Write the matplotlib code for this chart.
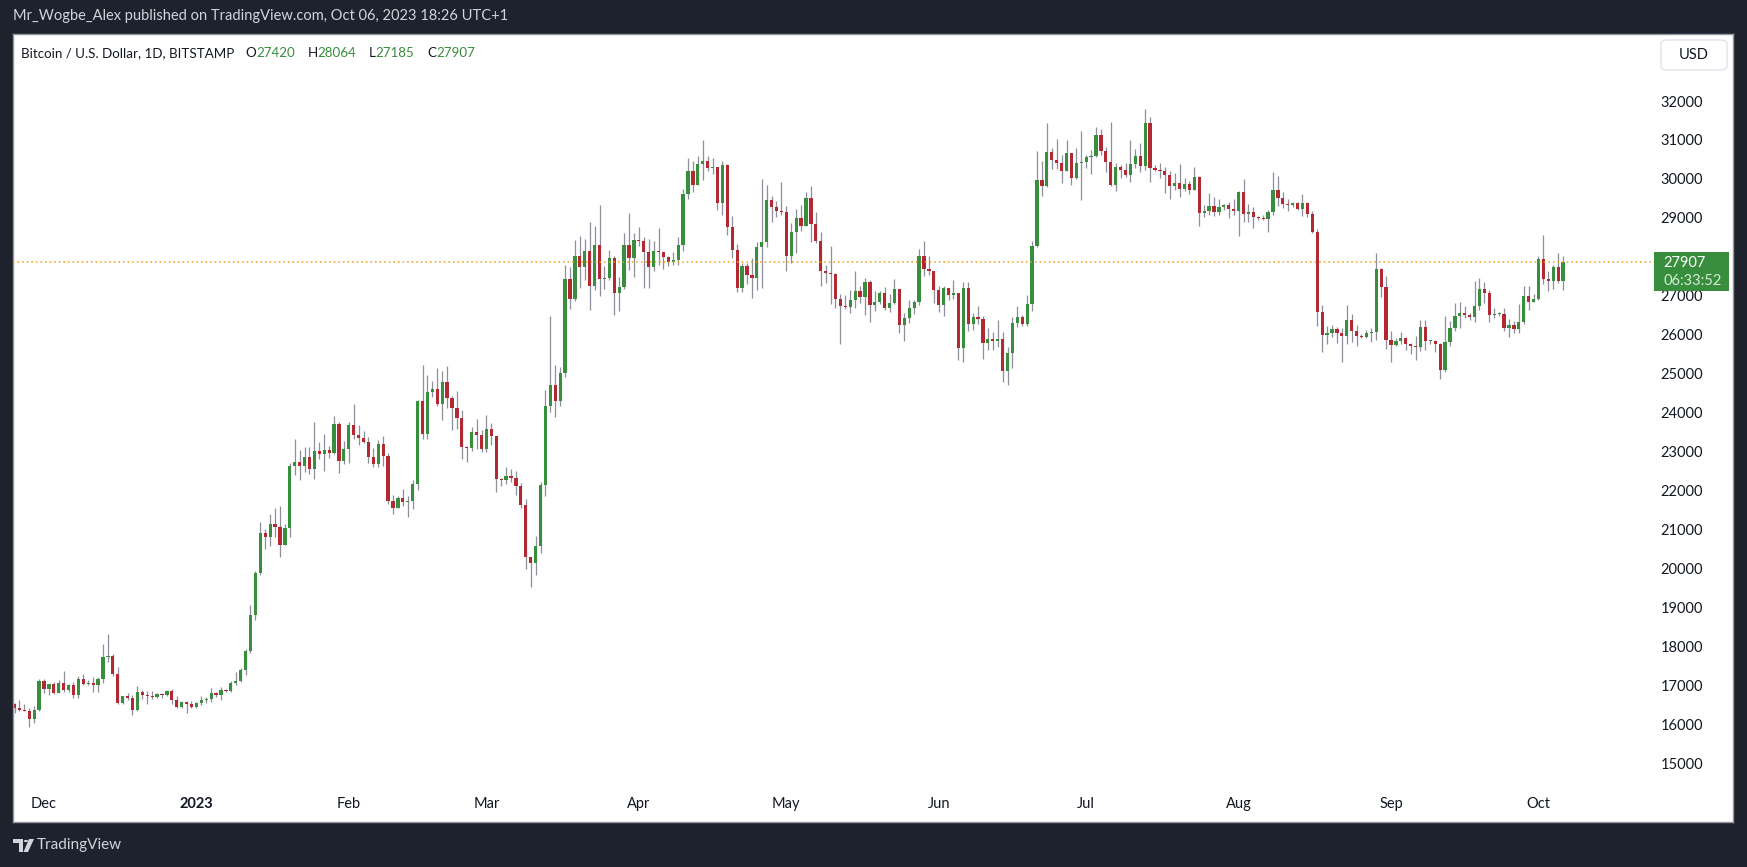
import pandas as pd
import numpy as np
import matplotlib
matplotlib.use("Agg")
import matplotlib.pyplot as plt
import matplotlib.dates as mdates
from matplotlib.patches import Rectangle, FancyBboxPatch, Polygon, Circle

# BTC/USD daily candles, Bitstamp, 2022-11-25 .. 2023-10-06
start_date = "2022-11-25"
first_open = 16581

close = [
    # Nov 25-30
    16479, 16414, 16400, 16186, 16418, 17150,
    # Dec
    16950, 17073, 16863, 17110, 16930, 17070, 16800, 17210, 17080, 17110,
    17060, 17210, 17780, 17810, 17350, 16600, 16780, 16720, 16420, 16880,
    16800, 16780, 16750, 16830, 16800, 16900, 16670, 16490, 16620, 16580, 16490,
    # Jan
    16600, 16675, 16690, 16855, 16805, 16932, 16906, 17120, 17163, 17445,
    17932, 18856, 19933, 20959, 20856, 21190, 21113, 20651, 21087, 22677,
    22780, 22677, 22908, 22600, 23062, 22985, 23087, 23010, 23754, 22805, 23113,
    # Feb
    23729, 23472, 23395, 23292, 22908, 22728, 23241, 22934, 21779, 21600,
    21857, 21754, 21780, 22215, 24344, 23498, 24575, 24652, 24267, 24831,
    24421, 24165, 23908, 23164, 23139, 23549, 23472, 23113,
    # Mar
    23626, 23447, 22344, 22318, 22421, 22370, 22164, 21677, 20343, 20189,
    20625, 22190, 24225, 24755, 24353, 25062, 27473, 26969, 28063, 27790,
    28191, 27302, 28345, 27482, 27507, 28012, 27123, 27277, 28345, 28020, 28473,
    # Apr
    28456, 28174, 27790, 28191, 28165, 28046, 27918, 27969, 28345, 29653,
    30243, 29893, 30423, 30500, 30329, 30346, 29431, 30397, 28815, 28226,
    27251, 27815, 27585, 27507, 28302, 28422, 29499, 29320, 29217, 29190,
    # May
    28063, 28679, 29038, 28833, 29551, 28884, 28448, 27678, 27627, 27601,
    26960, 26781, 26755, 26935, 27165, 27011, 27396, 26806, 26884, 27114,
    26730, 26858, 27217, 26294, 26473, 26729, 26883, 28063, 27730, 27678, 27191,
    # Jun
    26806, 27242, 27063, 27114, 25703, 27242, 26319, 26499, 26447, 25832,
    25934, 25883, 25934, 25114, 25575, 26345, 26499, 26319, 26832, 28320,
    30012, 29858, 30730, 30525, 30448, 30243, 30705, 30064, 30448, 30474,
    # Jul
    30602, 30628, 31167, 30756, 30474, 29884, 30346, 30269, 30141, 30423,
    30628, 30371, 31474, 30320, 30269, 30243, 30141, 29858, 29935, 29781,
    29910, 29756, 30089, 29166, 29217, 29345, 29191, 29320, 29371, 29268, 29217,
    # Aug
    29705, 29140, 29191, 29063, 29038, 29012, 29191, 29756, 29551, 29397,
    29371, 29422, 29268, 29422, 29140, 28679, 26627, 26037, 26088, 26191,
    26088, 26011, 26422, 26140, 26011, 25986, 26088, 26114, 27730, 27268, 25908,
    # Sep
    25780, 25883, 25960, 25806, 25755, 25729, 26242, 25883, 25883, 25806,
    25139, 25857, 26217, 26524, 26601, 26550, 26499, 26781, 27217, 27114,
    26550, 26575, 26575, 26217, 26294, 26191, 26370, 27037, 26883, 26960,
    # Oct 1-6
    27986, 27473, 27422, 27781, 27420, 27907,
]

high = [
    16607, 16676, 16570, 16463, 16510, 17210,
    17210, 17090, 17140, 17190, 17420, 17080, 17130, 17290, 17340, 17200,
    17260, 17260, 18110, 18370, 17860, 17520, 16790, 16860, 16800, 17040,
    16930, 16900, 16900, 16860, 16860, 16930, 16950, 16780, 16650, 16660, 16640,
    16630, 16780, 16760, 16980, 16890, 17010, 16960, 17160, 17400, 17490,
    17983, 19112, 19992, 21241, 21061, 21446, 21600, 21651, 21190, 22754,
    23370, 23087, 23164, 23164, 23805, 23292, 23498, 23190, 23959, 23805, 23318,
    23805, 24267, 23729, 23575, 23421, 23138, 23344, 23446, 23010, 21933,
    21908, 22087, 21908, 22318, 24370, 25267, 25011, 24857, 25190, 25113,
    25242, 24472, 24601, 24113, 23190, 23677, 23882, 23600,
    23985, 23780, 23447, 22370, 22652, 22600, 22549, 22240, 21831, 20343,
    20882, 22267, 24626, 26524, 25268, 25217, 27832, 27781, 28474, 28576,
    28499, 28935, 28833, 29371, 27815, 28217, 28063, 27533, 28653, 29166, 28653,
    28807, 28550, 28499, 28448, 28781, 28165, 28063, 28165, 28550, 29781,
    30577, 30500, 30628, 31038, 30628, 30577, 30346, 30500, 30423, 29089,
    28371, 27892, 27892, 28020, 28431, 30038, 29884, 29602, 29474, 29961,
    29345, 28910, 29269, 29371, 29705, 29859, 29192, 28679, 27832, 28320,
    27627, 27089, 27063, 27191, 27678, 27294, 27499, 27448, 27165, 27165,
    27268, 27089, 27473, 27217, 26601, 26935, 26935, 28243, 28448, 28063, 27678,
    27294, 27294, 27242, 27448, 27114, 27396, 27396, 26601, 26781, 26524,
    26217, 26114, 26422, 26114, 25729, 26499, 26781, 26550, 27063, 28448,
    30756, 30500, 31474, 30833, 31064, 30654, 31038, 30705, 30833, 31269,
    30654, 30782, 31372, 31320, 30859, 31500, 30448, 30397, 30448, 31038,
    30808, 30961, 31833, 31628, 30397, 30448, 30346, 30243, 30192, 30423,
    30064, 29987, 30346, 30115, 29371, 29679, 29576, 29525, 29397, 29448, 29525,
    29730, 30038, 29397, 29320, 29090, 29120, 29240, 30217, 30115, 29705,
    29525, 29460, 29440, 29653, 29440, 29217, 28756, 26806, 26268, 26294,
    26242, 26217, 26806, 26576, 26294, 26060, 26165, 26217, 28140, 27755, 27550,
    26140, 25960, 26114, 25980, 25830, 26011, 26422, 26422, 25910, 25910,
    25830, 26524, 26396, 26858, 26883, 26781, 26600, 27422, 27499, 27396,
    27191, 26730, 26620, 26730, 26448, 26396, 26832, 27294, 27294, 27089,
    28063, 28602, 27678, 27832, 28140, 28064,
]

low = [
    16351, 16393, 16390, 15990, 16090, 16400,
    16860, 16810, 16835, 16863, 16890, 16880, 16720, 16720, 17070, 17070,
    16890, 16890, 17100, 17660, 17300, 16570, 16570, 16680, 16280, 16400,
    16700, 16570, 16700, 16730, 16730, 16780, 16570, 16460, 16460, 16330, 16460,
    16470, 16550, 16600, 16620, 16750, 16675, 16880, 16890, 17060, 17140,
    17325, 17890, 18727, 19882, 20548, 20625, 20856, 20352, 20651, 20856,
    22446, 22318, 22523, 22472, 22344, 22856, 22549, 22882, 22985, 22497, 22728,
    22754, 23369, 23215, 23267, 22754, 22651, 22651, 22677, 21703, 21446,
    21600, 21651, 21369, 21574, 22062, 23370, 23370, 24447, 24216, 23857,
    24165, 23600, 23626, 22857, 22780, 23062, 23113, 23036,
    23036, 23216, 22011, 22164, 22216, 22267, 21933, 21600, 20036, 19582,
    19882, 20446, 21908, 24071, 23943, 24225, 24968, 26713, 26918, 27251,
    27456, 26687, 27200, 27046, 27225, 27456, 26559, 26661, 27225, 27713, 27533,
    28320, 27251, 27251, 27687, 27841, 27738, 27815, 27841, 27841, 28200,
    29534, 29713, 29893, 30021, 30252, 30175, 29252, 29123, 28611, 28020,
    27148, 27148, 27353, 26995, 27200, 27251, 28302, 28944, 29063, 29115,
    27678, 27884, 28140, 28704, 28833, 28422, 28400, 27294, 27371, 26832,
    26730, 25806, 26704, 26602, 26730, 26858, 26550, 26370, 26653, 26832,
    26678, 26627, 26832, 26088, 25883, 26345, 26575, 26806, 27550, 27576, 26858,
    26627, 26524, 26935, 26960, 25396, 25345, 26140, 26165, 26319, 25422,
    25652, 25652, 25729, 24832, 24755, 25191, 26242, 26268, 26268, 26653,
    28294, 29602, 29833, 30294, 30294, 29935, 30243, 29884, 30038, 29499,
    30320, 30166, 30602, 30654, 30217, 29850, 29730, 30064, 30089, 29961,
    30320, 30217, 30269, 29961, 30240, 30064, 29679, 29525, 29756, 29576,
    29730, 29653, 29756, 28833, 29063, 29115, 29089, 29115, 29243, 29038, 29115,
    28576, 28935, 28935, 28781, 28980, 28990, 28679, 29115, 29345, 29294,
    29217, 29330, 29240, 29089, 29063, 28650, 26268, 25601, 25806, 25986,
    25832, 25345, 25806, 25858, 25755, 25960, 25960, 25858, 25909, 27011, 25678,
    25345, 25750, 25806, 25652, 25550, 25396, 25627, 25652, 25800, 25601,
    24909, 25100, 25755, 26140, 26217, 26473, 26422, 26370, 26678, 26858,
    26370, 26473, 26520, 26140, 25986, 26088, 26088, 26319, 26678, 26880,
    26935, 27345, 27165, 27217, 27371, 27185,
]

# 28000 is hidden behind the last-price label in the reference
price_ticks = [15000, 16000, 17000, 18000, 19000, 20000, 21000, 22000, 23000,
               24000, 25000, 26000, 27000, 29000, 30000, 31000, 32000]
month_starts = ["2022-12-01", "2023-01-01", "2023-02-01", "2023-03-01", "2023-04-01",
                "2023-05-01", "2023-06-01", "2023-07-01", "2023-08-01", "2023-09-01",
                "2023-10-01"]
month_labels = ["Dec", "2023", "Feb", "Mar", "Apr", "May", "Jun", "Jul", "Aug", "Sep", "Oct"]

last_price = 27907
countdown = "06:33:52"
header = "Mr_Wogbe_Alex published on TradingView.com, Oct 06, 2023 18:26 UTC+1"
symbol_title = "Bitcoin / U.S. Dollar, 1D, BITSTAMP"
ohlc_letters = ["O", "H", "L", "C"]
ohlc_values = ["27420", "28064", "27185", "27907"]

GREEN = "#388e3c"
RED = "#b22833"
WICK = "#8e8f9b"
DARK = "#1e222d"
TEXT = "#131722"

plt.rcParams["font.family"] = ["Lato", "DejaVu Sans"]

W, H = 1747, 867
def fx(px):
    return px / W
def fy(py):
    return 1 - py / H

dates = pd.date_range(start_date, periods=len(close), freq="D")
x = mdates.date2num(dates)
c = np.array(close, dtype=float)
o = np.array([first_open] + close[:-1], dtype=float)
hi = np.array(high, dtype=float)
lo = np.array(low, dtype=float)
up = c >= o

fig = plt.figure(figsize=(W / 100, H / 100), dpi=100, facecolor=DARK)
ax = fig.add_axes([fx(13), fy(822), fx(1733) - fx(13), fy(34) - fy(822)])
ax.set_facecolor("white")

px_per_day = 4.916
dec1 = mdates.date2num(pd.Timestamp("2022-12-01"))
ax.set_xlim(dec1 - 31 / px_per_day, dec1 + (1733 - 44) / px_per_day)
ax.set_ylim(13546, 33757)

ax.vlines(x, lo, hi, color=WICK, linewidth=0.9, zorder=1)
body_bottom = np.minimum(o, c)
body_h = np.maximum(np.abs(c - o), 25)
ax.bar(x, body_h, bottom=body_bottom, width=0.66,
       color=np.where(up, GREEN, RED), linewidth=0, zorder=2)

# last price dotted line
ax.axhline(last_price, xmin=0, xmax=(1654 - 13) / 1720, color="#f59d16",
           linestyle=(0, (1, 2)), linewidth=1.1, zorder=3)

ax.set_xticks([])
ax.set_yticks([])
for s in ax.spines.values():
    s.set_color("#9598a1")
    s.set_linewidth(1)

# price scale labels
ytr = ax.get_yaxis_transform()
for t in price_ticks:
    ax.text((1703 - 13) / 1720, t, str(t), transform=ytr, ha="right", va="center",
            fontsize=10.5, color=TEXT)

# month labels
xtr = ax.get_xaxis_transform()
for d, lab in zip(month_starts, month_labels):
    ax.text(mdates.date2num(pd.Timestamp(d)), (822 - 804) / 788, lab, transform=xtr,
            ha="center", va="center", fontsize=10.5, color=TEXT,
            fontweight="bold" if lab == "2023" else "normal")

# header
fig.text(fx(13), fy(16), header, ha="left", va="center", fontsize=10.5, color="#d1d4dc")

# symbol line with OHLC values
prev = fig.text(fx(21), fy(53), symbol_title, ha="left", va="center",
                fontsize=9.6, color=TEXT)
for k, (letter, val) in enumerate(zip(ohlc_letters, ohlc_values)):
    lt = ax.annotate(letter, xy=(1, 0.5), xycoords=prev, xytext=(8 if k == 0 else 9, 0),
                     textcoords="offset points", ha="left", va="center",
                     fontsize=9.6, color=TEXT, annotation_clip=False)
    vt = ax.annotate(val, xy=(1, 0.5), xycoords=lt, xytext=(0, 0),
                     textcoords="offset points", ha="left", va="center",
                     fontsize=9.6, color=GREEN, annotation_clip=False)
    prev = vt

# USD button
fig.patches.append(FancyBboxPatch((fx(1661), fy(70)), fx(1727) - fx(1661), fy(40) - fy(70),
                                  boxstyle="round,pad=0,rounding_size=0.004",
                                  transform=fig.transFigure, facecolor="white",
                                  edgecolor="#e0e3eb", linewidth=1, zorder=5))
fig.text(fx(1694), fy(55), "USD", ha="center", va="center", fontsize=10.5, color=TEXT, zorder=6)

# last price label box
fig.patches.append(Rectangle((fx(1654), fy(291)), fx(1729) - fx(1654), fy(252) - fy(291),
                             transform=fig.transFigure, facecolor=GREEN, edgecolor="none", zorder=5))
fig.text(fx(1663), fy(263), str(last_price), ha="left", va="center", fontsize=10.5,
         color="white", zorder=6)
fig.text(fx(1663), fy(281), countdown, ha="left", va="center", fontsize=10.5,
         color="#d5ecd6", zorder=6)

# footer logo (drawn from simple shapes) and name
logo_col = "#d1d4dc"
fig.patches.append(Polygon([(fx(13), fy(839)), (fx(23), fy(839)), (fx(23), fy(852)),
                            (fx(19), fy(852)), (fx(19), fy(843)), (fx(13), fy(843))],
                           closed=True, transform=fig.transFigure, facecolor=logo_col,
                           edgecolor="none"))
fig.patches.append(Circle((fx(26), fy(841)), 2.2 / W, transform=fig.transFigure,
                          facecolor=logo_col, edgecolor="none"))
fig.patches.append(Polygon([(fx(29), fy(839)), (fx(34), fy(839)), (fx(28), fy(852)),
                            (fx(23.5), fy(852))],
                           closed=True, transform=fig.transFigure, facecolor=logo_col,
                           edgecolor="none"))
fig.text(fx(37), fy(845), "TradingView", ha="left", va="center", fontsize=11, color=logo_col)

fig.savefig("out.png", dpi=100, facecolor=DARK)
